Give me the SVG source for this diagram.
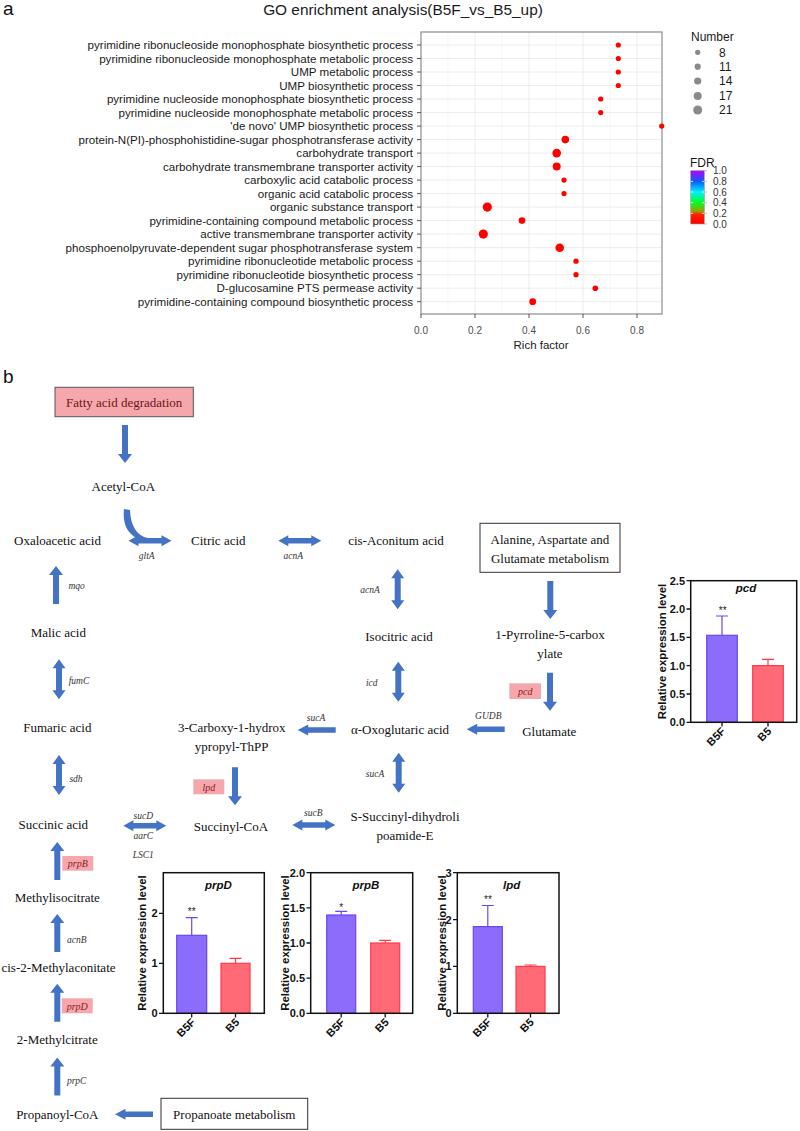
<svg xmlns="http://www.w3.org/2000/svg" width="800" height="1131" viewBox="0 0 800 1131">
<style>
.lbl{font-family:"Liberation Sans",Arial,sans-serif;font-size:11.6px;fill:#1a1a1a;text-anchor:end}
.tick{font-family:"Liberation Sans",Arial,sans-serif;font-size:10px;fill:#4d4d4d;text-anchor:middle}
.leg{font-family:"Liberation Sans",Arial,sans-serif;font-size:12px;fill:#1a1a1a}
.legs{font-family:"Liberation Sans",Arial,sans-serif;font-size:10px;fill:#333}
.panel{font-family:"Liberation Sans",Arial,sans-serif;font-size:19px;fill:#111}
.met{font-family:"Liberation Serif","Times New Roman",serif;font-size:13px;fill:#111;text-anchor:middle}
.gene{font-family:"Liberation Serif","Times New Roman",serif;font-size:9.5px;font-style:italic;fill:#333;text-anchor:middle}
.pg{font-family:"Liberation Serif","Times New Roman",serif;font-size:10px;font-style:italic;fill:#8b1a1a;text-anchor:middle}
.pbox{fill:#f6a7ae}
.box{fill:#fff;stroke:#333;stroke-width:1}
.arr{fill:#4472c4}
.ax{font-family:"Liberation Sans",Arial,sans-serif;font-size:11px;font-weight:bold;fill:#111}
.ylab{font-family:"Liberation Sans",Arial,sans-serif;font-size:11.4px;font-weight:bold;fill:#111;text-anchor:middle}
.ttl{font-family:"Liberation Sans",Arial,sans-serif;font-size:11.5px;font-weight:bold;font-style:italic;fill:#111;text-anchor:middle}
.star{font-family:"Liberation Sans",Arial,sans-serif;font-size:10px;fill:#222;text-anchor:middle}
.frame{fill:none;stroke:#111;stroke-width:1.5}
.b5f{fill:#8b6cfb;stroke:#6a48f0;stroke-width:1.2}
.b5{fill:#ff6a76;stroke:#ff3a4c;stroke-width:1.2}
.e5f{stroke:#6a48f0;stroke-width:1.2;fill:none}
.e5{stroke:#ff3a4c;stroke-width:1.2;fill:none}
.tk{stroke:#111;stroke-width:1.3}
.grid{stroke:#ececec;stroke-width:1}
.gridm{stroke:#f5f5f5;stroke-width:0.7}
.dot{fill:#ff0000}
.gdot{fill:#8a8a8a}
</style>
<defs>
<path id="aDown" d="M-3,0 H3 V29 H7 L0,38 L-7,29 H-3 Z"/>
<path id="aLeft" d="M0,0 L10.5,-5.5 V-2.8 H38 V2.8 H10.5 V5.5 Z"/>
<path id="dH" d="M0,0 L10,-5.5 V-2.8 H33 V-5.5 L43,0 L33,5.5 V2.8 H10 V5.5 Z"/>
<path id="dV" d="M0,0 L6.5,9 H3 V31 H6.5 L0,40 L-6.5,31 H-3 V9 H-6.5 Z"/>
<linearGradient id="fdr" x1="0" y1="0" x2="0" y2="1">
<stop offset="0" stop-color="#b800ff"/>
<stop offset="0.2" stop-color="#0a5cff"/>
<stop offset="0.4" stop-color="#00f0ff"/>
<stop offset="0.6" stop-color="#00ff20"/>
<stop offset="0.76" stop-color="#9aa000"/>
<stop offset="0.82" stop-color="#ff2000"/>
<stop offset="1" stop-color="#ff0000"/>
</linearGradient>
</defs>
<rect width="800" height="1131" fill="#fff"/>

<!-- Panel a -->
<g id="panel-a">
<text class="panel" x="3" y="15">a</text>
<text x="403" y="15" style="font-family:'Liberation Sans',Arial,sans-serif;font-size:15.4px;fill:#1a1a1a;text-anchor:middle">GO enrichment analysis(B5F_vs_B5_up)</text>
<g id="go-plot">
<rect x="421" y="32" width="241" height="282" fill="#fff"/>
<g class="gridm">
<line x1="448" y1="32" x2="448" y2="314"/><line x1="502" y1="32" x2="502" y2="314"/><line x1="556" y1="32" x2="556" y2="314"/><line x1="610" y1="32" x2="610" y2="314"/>
</g>
<g class="grid">
<line x1="475" y1="32" x2="475" y2="314"/><line x1="529" y1="32" x2="529" y2="314"/><line x1="583" y1="32" x2="583" y2="314"/><line x1="637" y1="32" x2="637" y2="314"/>
<line x1="421" y1="45" x2="662" y2="45"/><line x1="421" y1="58.5" x2="662" y2="58.5"/><line x1="421" y1="72" x2="662" y2="72"/><line x1="421" y1="85.5" x2="662" y2="85.5"/><line x1="421" y1="99" x2="662" y2="99"/><line x1="421" y1="112.6" x2="662" y2="112.6"/><line x1="421" y1="126.1" x2="662" y2="126.1"/><line x1="421" y1="139.6" x2="662" y2="139.6"/><line x1="421" y1="153.1" x2="662" y2="153.1"/><line x1="421" y1="166.6" x2="662" y2="166.6"/><line x1="421" y1="180.1" x2="662" y2="180.1"/><line x1="421" y1="193.6" x2="662" y2="193.6"/><line x1="421" y1="207.1" x2="662" y2="207.1"/><line x1="421" y1="220.6" x2="662" y2="220.6"/><line x1="421" y1="234.1" x2="662" y2="234.1"/><line x1="421" y1="247.7" x2="662" y2="247.7"/><line x1="421" y1="261.2" x2="662" y2="261.2"/><line x1="421" y1="274.7" x2="662" y2="274.7"/><line x1="421" y1="288.2" x2="662" y2="288.2"/><line x1="421" y1="301.7" x2="662" y2="301.7"/>
</g>
<rect x="421" y="32" width="241" height="282" fill="none" stroke="#8c8c8c" stroke-width="1.2"/>
<g stroke="#555" stroke-width="1">
<line x1="417" y1="45" x2="421" y2="45"/><line x1="417" y1="58.5" x2="421" y2="58.5"/><line x1="417" y1="72" x2="421" y2="72"/><line x1="417" y1="85.5" x2="421" y2="85.5"/><line x1="417" y1="99" x2="421" y2="99"/><line x1="417" y1="112.6" x2="421" y2="112.6"/><line x1="417" y1="126.1" x2="421" y2="126.1"/><line x1="417" y1="139.6" x2="421" y2="139.6"/><line x1="417" y1="153.1" x2="421" y2="153.1"/><line x1="417" y1="166.6" x2="421" y2="166.6"/><line x1="417" y1="180.1" x2="421" y2="180.1"/><line x1="417" y1="193.6" x2="421" y2="193.6"/><line x1="417" y1="207.1" x2="421" y2="207.1"/><line x1="417" y1="220.6" x2="421" y2="220.6"/><line x1="417" y1="234.1" x2="421" y2="234.1"/><line x1="417" y1="247.7" x2="421" y2="247.7"/><line x1="417" y1="261.2" x2="421" y2="261.2"/><line x1="417" y1="274.7" x2="421" y2="274.7"/><line x1="417" y1="288.2" x2="421" y2="288.2"/><line x1="417" y1="301.7" x2="421" y2="301.7"/>
<line x1="421" y1="314" x2="421" y2="318"/><line x1="475" y1="314" x2="475" y2="318"/><line x1="529" y1="314" x2="529" y2="318"/><line x1="583" y1="314" x2="583" y2="318"/><line x1="637" y1="314" x2="637" y2="318"/>
</g>
<g>
<text class="lbl" x="413" y="49">pyrimidine ribonucleoside monophosphate biosynthetic process</text>
<text class="lbl" x="413" y="62.5">pyrimidine ribonucleoside monophosphate metabolic process</text>
<text class="lbl" x="413" y="76">UMP metabolic process</text>
<text class="lbl" x="413" y="89.5">UMP biosynthetic process</text>
<text class="lbl" x="413" y="103">pyrimidine nucleoside monophosphate biosynthetic process</text>
<text class="lbl" x="413" y="116.6">pyrimidine nucleoside monophosphate metabolic process</text>
<text class="lbl" x="413" y="130.1">'de novo' UMP biosynthetic process</text>
<text class="lbl" x="413" y="143.6">protein-N(PI)-phosphohistidine-sugar phosphotransferase activity</text>
<text class="lbl" x="413" y="157.1">carbohydrate transport</text>
<text class="lbl" x="413" y="170.6">carbohydrate transmembrane transporter activity</text>
<text class="lbl" x="413" y="184.1">carboxylic acid catabolic process</text>
<text class="lbl" x="413" y="197.6">organic acid catabolic process</text>
<text class="lbl" x="413" y="211.1">organic substance transport</text>
<text class="lbl" x="413" y="224.6">pyrimidine-containing compound metabolic process</text>
<text class="lbl" x="413" y="238.1">active transmembrane transporter activity</text>
<text class="lbl" x="413" y="251.7">phosphoenolpyruvate-dependent sugar phosphotransferase system</text>
<text class="lbl" x="413" y="265.2">pyrimidine ribonucleotide metabolic process</text>
<text class="lbl" x="413" y="278.7">pyrimidine ribonucleotide biosynthetic process</text>
<text class="lbl" x="413" y="292.2">D-glucosamine PTS permease activity</text>
<text class="lbl" x="413" y="305.7">pyrimidine-containing compound biosynthetic process</text>
</g>
<g>
<circle class="dot" cx="618.3" cy="45" r="2.6"/>
<circle class="dot" cx="618.3" cy="58.5" r="2.6"/>
<circle class="dot" cx="618.3" cy="72" r="2.6"/>
<circle class="dot" cx="618.3" cy="85.5" r="2.6"/>
<circle class="dot" cx="600.7" cy="99" r="2.6"/>
<circle class="dot" cx="600.7" cy="112.6" r="2.6"/>
<circle class="dot" cx="661.7" cy="126.1" r="2.6"/>
<circle class="dot" cx="565.3" cy="139.6" r="3.8"/>
<circle class="dot" cx="556.7" cy="153.1" r="4.3"/>
<circle class="dot" cx="556.7" cy="166.6" r="4.0"/>
<circle class="dot" cx="564" cy="180.1" r="2.6"/>
<circle class="dot" cx="564" cy="193.6" r="2.6"/>
<circle class="dot" cx="487.3" cy="207.1" r="4.6"/>
<circle class="dot" cx="522" cy="220.6" r="3.3"/>
<circle class="dot" cx="483.3" cy="234.1" r="4.6"/>
<circle class="dot" cx="559.7" cy="247.7" r="4.3"/>
<circle class="dot" cx="576" cy="261.2" r="2.6"/>
<circle class="dot" cx="576" cy="274.7" r="2.6"/>
<circle class="dot" cx="595.3" cy="288.2" r="2.8"/>
<circle class="dot" cx="532.7" cy="301.7" r="3.4"/>
</g>
<text class="tick" x="421" y="334">0.0</text>
<text class="tick" x="475" y="334">0.2</text>
<text class="tick" x="529" y="334">0.4</text>
<text class="tick" x="583" y="334">0.6</text>
<text class="tick" x="637" y="334">0.8</text>
<text x="541" y="349" style="font-family:'Liberation Sans',Arial,sans-serif;font-size:11.5px;fill:#1a1a1a;text-anchor:middle">Rich factor</text>
</g>
<g id="legend-number">
<text class="leg" x="691" y="41">Number</text>
<circle class="gdot" cx="697.7" cy="52.3" r="2.6"/><text class="leg" x="719" y="56.5">8</text>
<circle class="gdot" cx="697.7" cy="66.7" r="3.1"/><text class="leg" x="719" y="71">11</text>
<circle class="gdot" cx="697.7" cy="81" r="3.6"/><text class="leg" x="719" y="85.3">14</text>
<circle class="gdot" cx="697.7" cy="96" r="4.0"/><text class="leg" x="719" y="100.3">17</text>
<circle class="gdot" cx="697.7" cy="110" r="4.5"/><text class="leg" x="719" y="114.3">21</text>
</g>
<g id="legend-fdr">
<text class="leg" x="690" y="167">FDR</text>
<rect x="690.7" y="170.7" width="13.6" height="53.3" fill="url(#fdr)" stroke="#999" stroke-width="0.6"/>
<g stroke="#fff" stroke-width="0.8">
<line x1="690.7" y1="181.4" x2="693" y2="181.4"/><line x1="702" y1="181.4" x2="704.3" y2="181.4"/>
<line x1="690.7" y1="192" x2="693" y2="192"/><line x1="702" y1="192" x2="704.3" y2="192"/>
<line x1="690.7" y1="202.7" x2="693" y2="202.7"/><line x1="702" y1="202.7" x2="704.3" y2="202.7"/>
<line x1="690.7" y1="213.3" x2="693" y2="213.3"/><line x1="702" y1="213.3" x2="704.3" y2="213.3"/>
</g>
<text class="legs" x="713" y="174.3">1.0</text>
<text class="legs" x="713" y="184.9">0.8</text>
<text class="legs" x="713" y="195.6">0.6</text>
<text class="legs" x="713" y="206.2">0.4</text>
<text class="legs" x="713" y="216.9">0.2</text>
<text class="legs" x="713" y="227.5">0.0</text>
<g stroke="#999" stroke-width="0.6"><line x1="704.3" y1="170.7" x2="707" y2="170.7"/><line x1="704.3" y1="181.4" x2="707" y2="181.4"/><line x1="704.3" y1="192" x2="707" y2="192"/><line x1="704.3" y1="202.7" x2="707" y2="202.7"/><line x1="704.3" y1="213.3" x2="707" y2="213.3"/><line x1="704.3" y1="224" x2="707" y2="224"/></g>
</g>
</g>

<!-- Panel b -->
<text class="panel" x="3" y="383">b</text>

<g id="connectors">
<use href="#aDown" class="arr" x="125" y="425"/>
<path class="arr" d="M124,509 C122,527 130,539 148,541.5 L148,538 C137,536 130.5,526 130,510 Z"/>
<use href="#dH" class="arr" x="128.5" y="540.7"/>
<use href="#dH" class="arr" x="278.3" y="540.7"/>
<use href="#dV" class="arr" x="397.7" y="569.3"/>
<use href="#aDown" class="arr" x="550.3" y="581"/>
<use href="#dV" class="arr" x="398.3" y="661.7"/>
<use href="#aDown" class="arr" x="550" y="672.7"/>
<use href="#aLeft" class="arr" x="466.7" y="729.3"/>
<use href="#dV" class="arr" x="398.7" y="752.7"/>
<use href="#aLeft" class="arr" x="297.7" y="730"/>
<use href="#aDown" class="arr" x="235" y="767.3"/>
<use href="#dH" class="arr" x="292.3" y="825"/>
<use href="#dH" class="arr" x="123.3" y="825.7"/>
<use href="#aDown" class="arr" transform="translate(56,604) rotate(180)"/>
<use href="#dV" class="arr" x="59" y="659.3"/>
<use href="#dV" class="arr" x="59" y="755"/>
<use href="#aDown" class="arr" transform="translate(57.3,880) rotate(180)"/>
<use href="#aDown" class="arr" transform="translate(57.3,952) rotate(180)"/>
<use href="#aDown" class="arr" transform="translate(57.3,1021.7) rotate(180)"/>
<use href="#aDown" class="arr" transform="translate(57.3,1095.5) rotate(180)"/>
<use href="#aLeft" class="arr" x="115" y="1114.3"/>
</g>

<g id="gene-labels">
<text class="gene" x="146.7" y="559">gltA</text>
<text class="gene" x="293.3" y="559">acnA</text>
<text class="gene" x="370" y="593">acnA</text>
<text class="gene" x="371.7" y="685.5">icd</text>
<text class="gene" x="488.3" y="719">GUDB</text>
<text class="gene" x="375" y="777">sucA</text>
<text class="gene" x="316" y="721">sucA</text>
<text class="gene" x="313.3" y="815.5">sucB</text>
<text class="gene" x="143.3" y="819">sucD</text>
<text class="gene" x="143.3" y="838.5">aarC</text>
<text class="gene" x="143.3" y="857.5">LSC1</text>
<text class="gene" x="76.7" y="588.5">mqo</text>
<text class="gene" x="79" y="684">fumC</text>
<text class="gene" x="76" y="781.5">sdh</text>
<text class="gene" x="76.7" y="943">acnB</text>
<text class="gene" x="76.7" y="1084">prpC</text>
</g>

<g id="gene-pcd"><rect class="pbox" x="509.3" y="683.3" width="31.7" height="15.7"/><text class="pg" x="525.2" y="694.8">pcd</text></g>
<g id="gene-lpd"><rect class="pbox" x="193.3" y="779.3" width="31" height="15"/><text class="pg" x="208.8" y="790.5">lpd</text></g>
<g id="gene-prpB"><rect class="pbox" x="62.3" y="856" width="31" height="14.7"/><text class="pg" x="77.8" y="867">prpB</text></g>
<g id="gene-prpD"><rect class="pbox" x="61.7" y="998.3" width="31" height="15"/><text class="pg" x="77.2" y="1009.5">prpD</text></g>

<g id="node-fatty"><rect x="55" y="387.3" width="138.3" height="29.4" fill="#f6a7ac" stroke="#555" stroke-width="1"/><text class="met" x="124.2" y="406.5" style="fill:#6b1616">Fatty acid degradation</text></g>
<g id="node-acetyl"><text class="met" x="123.3" y="491">Acetyl-CoA</text></g>
<g id="node-oxalo"><text class="met" x="57.5" y="545">Oxaloacetic acid</text></g>
<g id="node-citric"><text class="met" x="218.3" y="545">Citric acid</text></g>
<g id="node-cisacon"><text class="met" x="396" y="545">cis-Aconitum acid</text></g>
<g id="node-alanine"><rect class="box" x="480" y="523.3" width="140" height="49"/><text class="met" x="550" y="544">Alanine, Aspartate and</text><text class="met" x="550" y="563">Glutamate metabolism</text></g>
<g id="node-isocitric"><text class="met" x="399" y="641">Isocitric acid</text></g>
<g id="node-pyrroline"><text class="met" x="550" y="639">1-Pyrroline-5-carbox</text><text class="met" x="550" y="658">ylate</text></g>
<g id="node-glutamate"><text class="met" x="549.3" y="735.5">Glutamate</text></g>
<g id="node-oxoglut"><text class="met" x="400" y="733.5">α-Oxoglutaric acid</text></g>
<g id="node-carboxy"><text class="met" x="231.7" y="732">3-Carboxy-1-hydrox</text><text class="met" x="231.7" y="751">ypropyl-ThPP</text></g>
<g id="node-ssuccinyl"><text class="met" x="405" y="821">S-Succinyl-dihydroli</text><text class="met" x="405" y="840">poamide-E</text></g>
<g id="node-succinylcoa"><text class="met" x="231" y="830.5">Succinyl-CoA</text></g>
<g id="node-malic"><text class="met" x="58.3" y="636.5">Malic acid</text></g>
<g id="node-fumaric"><text class="met" x="57.3" y="731.5">Fumaric acid</text></g>
<g id="node-succinic"><text class="met" x="53.3" y="829">Succinic acid</text></g>
<g id="node-methyliso"><text class="met" x="57.3" y="901.5">Methylisocitrate</text></g>
<g id="node-cis2"><text class="met" x="58.5" y="971.5">cis-2-Methylaconitate</text></g>
<g id="node-2methyl"><text class="met" x="57.3" y="1044">2-Methylcitrate</text></g>
<g id="node-propanoyl"><text class="met" x="57.3" y="1118.5">Propanoyl-CoA</text></g>
<g id="node-propanoate"><rect class="box" x="161" y="1098.3" width="146.7" height="31"/><text class="met" x="234.3" y="1119">Propanoate metabolism</text></g>

<!-- bar chart pcd -->
<g id="chart-pcd">
<rect class="b5f" x="706.7" y="635.3" width="30.6" height="87"/>
<path class="e5f" d="M722,635.3 V616 M716,616 H728"/>
<rect class="b5" x="752.7" y="665.6" width="30.6" height="56.7"/>
<path class="e5" d="M768,665.6 V659.3 M762,659.3 H774"/>
<rect class="frame" x="690.7" y="580.7" width="106" height="141.6"/>
<path class="tk" d="M686.5,580.7 H690.7 M686.5,609 H690.7 M686.5,637.3 H690.7 M686.5,665.6 H690.7 M686.5,694 H690.7 M686.5,722.3 H690.7 M722,722.3 V726.5 M768,722.3 V726.5"/>
<g class="ax" text-anchor="end">
<text x="685" y="584.7">2.5</text><text x="685" y="613">2.0</text><text x="685" y="641.3">1.5</text><text x="685" y="669.6">1.0</text><text x="685" y="698">0.5</text><text x="685" y="726.3">0.0</text>
</g>
<text class="ttl" x="746" y="592">pcd</text>
<text class="star" x="722.7" y="614">**</text>
<text class="ylab" transform="translate(665.5,651.5) rotate(-90)">Relative expression level</text>
<text class="ax" text-anchor="end" transform="translate(726,732) rotate(-45)">B5F</text>
<text class="ax" text-anchor="end" transform="translate(772,732) rotate(-45)">B5</text>
</g>

<!-- bar chart prpD -->
<g id="chart-prpD">
<rect class="b5f" x="176.7" y="935.3" width="30" height="78"/>
<path class="e5f" d="M191.7,935.3 V917.7 M185.7,917.7 H197.7"/>
<rect class="b5" x="221" y="963.3" width="29" height="50"/>
<path class="e5" d="M235.5,963.3 V958.3 M229.5,958.3 H241.5"/>
<rect class="frame" x="163.3" y="872.7" width="101" height="140.6"/>
<path class="tk" d="M159,913.3 H163.3 M159,963.3 H163.3 M159,1013.3 H163.3 M191.7,1013.3 V1017.5 M235.5,1013.3 V1017.5"/>
<g class="ax" text-anchor="end">
<text x="157.5" y="917.3">2</text><text x="157.5" y="967.3">1</text><text x="157.5" y="1017.3">0</text>
</g>
<text class="ttl" x="218.3" y="889">prpD</text>
<text class="star" x="191.7" y="915">**</text>
<text class="ylab" transform="translate(145.7,943) rotate(-90)">Relative expression level</text>
<text class="ax" text-anchor="end" transform="translate(196,1023) rotate(-45)">B5F</text>
<text class="ax" text-anchor="end" transform="translate(240,1023) rotate(-45)">B5</text>
</g>

<!-- bar chart prpB -->
<g id="chart-prpB">
<rect class="b5f" x="326.7" y="915" width="29" height="98.3"/>
<path class="e5f" d="M341.2,915 V911.3 M335.2,911.3 H347.2"/>
<rect class="b5" x="370.7" y="943" width="29" height="70.3"/>
<path class="e5" d="M385.2,943 V940.3 M379.2,940.3 H391.2"/>
<rect class="frame" x="310.7" y="872.7" width="102" height="140.6"/>
<path class="tk" d="M306.5,872.7 H310.7 M306.5,907.9 H310.7 M306.5,943 H310.7 M306.5,978.2 H310.7 M306.5,1013.3 H310.7 M341.2,1013.3 V1017.5 M385.2,1013.3 V1017.5"/>
<g class="ax" text-anchor="end">
<text x="305" y="876.7">2.0</text><text x="305" y="911.9">1.5</text><text x="305" y="947">1.0</text><text x="305" y="982.2">0.5</text><text x="305" y="1017.3">0.0</text>
</g>
<text class="ttl" x="366" y="889">prpB</text>
<text class="star" x="341.2" y="911">*</text>
<text class="ylab" transform="translate(289,943) rotate(-90)">Relative expression level</text>
<text class="ax" text-anchor="end" transform="translate(345.5,1023) rotate(-45)">B5F</text>
<text class="ax" text-anchor="end" transform="translate(389.5,1023) rotate(-45)">B5</text>
</g>

<!-- bar chart lpd -->
<g id="chart-lpd">
<rect class="b5f" x="473.3" y="926.6" width="29" height="86.7"/>
<path class="e5f" d="M487.8,926.6 V905.5 M481.8,905.5 H493.8"/>
<rect class="b5" x="516" y="966.4" width="29" height="46.9"/>
<path class="e5" d="M530.5,966.4 V965 M524.5,965 H536.5"/>
<rect class="frame" x="457.3" y="872.7" width="101.7" height="140.6"/>
<path class="tk" d="M453,872.7 H457.3 M453,919.6 H457.3 M453,966.4 H457.3 M453,1013.3 H457.3 M487.8,1013.3 V1017.5 M530.5,1013.3 V1017.5"/>
<g class="ax" text-anchor="end">
<text x="451.5" y="876.7">3</text><text x="451.5" y="923.6">2</text><text x="451.5" y="970.4">1</text><text x="451.5" y="1017.3">0</text>
</g>
<text class="ttl" x="511.7" y="889">lpd</text>
<text class="star" x="488" y="903">**</text>
<text class="ylab" transform="translate(445.7,943) rotate(-90)">Relative expression level</text>
<text class="ax" text-anchor="end" transform="translate(492,1023) rotate(-45)">B5F</text>
<text class="ax" text-anchor="end" transform="translate(534.5,1023) rotate(-45)">B5</text>
</g>
</svg>
